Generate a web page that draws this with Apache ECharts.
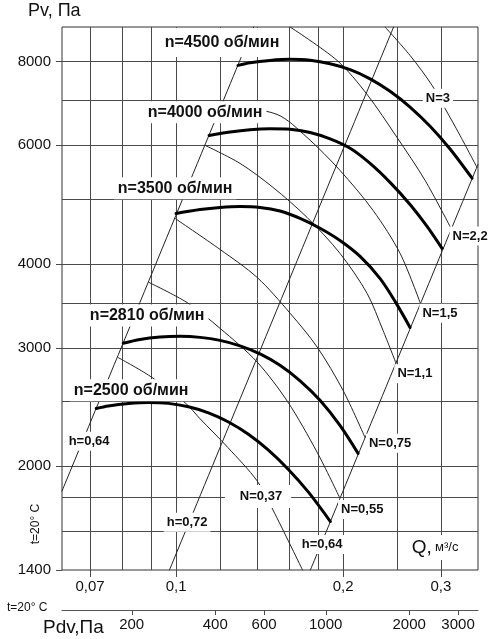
<!DOCTYPE html>
<html><head><meta charset="utf-8">
<script src="https://cdn.jsdelivr.net/npm/echarts@6/dist/echarts.min.js"></script>
<style>html,body{margin:0;padding:0;background:#fff}#c{width:500px;height:639px}</style>
</head><body><div id="c"></div>
<script>
const FONT = '"Liberation Sans", Arial, sans-serif';
// axis ranges
const Q_MIN = 0.0623, Q_MAX = 0.35, P_MIN = 1400, P_MAX = 9000;
const PDV_K = 28900; // Pdv = K * Q^2 (t = 20 °C)
// grid and tick values
const qGrid = [0.07, 0.08, 0.09, 0.1, 0.12, 0.14, 0.16, 0.18, 0.2, 0.25, 0.3];
const qTicks = [0.07, 0.1, 0.2, 0.3];
const pGrid = [1600, 1800, 2000, 2500, 3000, 3500, 4000, 5000, 6000, 7000, 8000];
const pTicks = [1400, 2000, 3000, 4000, 6000, 8000];
const pdvTicks = [200, 400, 600, 1000, 2000, 3000];
// fan curves [Q m3/s, Pv Pa]
const fan4500 = [[0.1293,7890],[0.1359,7960],[0.1477,8025],[0.1605,8055],[0.1744,8030],[0.1895,7935],[0.2059,7775],[0.2237,7535],[0.2430,7220],[0.2640,6840],[0.2869,6405],[0.3117,5925],[0.3415,5360]];
const fan4000 = [[0.1147,6205],[0.1251,6280],[0.1359,6330],[0.1477,6350],[0.1605,6340],[0.1744,6270],[0.1895,6135],[0.2059,5940],[0.2237,5640],[0.2430,5285],[0.2640,4900],[0.2833,4545],[0.3015,4215]];
const fan3500 = [[0.1000,4750],[0.1105,4815],[0.1200,4850],[0.1304,4865],[0.1417,4850],[0.1539,4790],[0.1673,4670],[0.1817,4515],[0.1974,4330],[0.2146,4100],[0.2332,3800],[0.2481,3515],[0.2640,3215]];
const fan2810 = [[0.0803,3045],[0.0861,3085],[0.0936,3110],[0.1017,3118],[0.1105,3107],[0.1200,3075],[0.1304,3018],[0.1417,2936],[0.1539,2823],[0.1673,2677],[0.1817,2504],[0.1974,2298],[0.2128,2088]];
const fan2500 = [[0.0718,2435],[0.0755,2456],[0.0821,2477],[0.0892,2486],[0.0969,2478],[0.1053,2449],[0.1144,2399],[0.1243,2325],[0.1350,2229],[0.1467,2111],[0.1594,1976],[0.1732,1828],[0.1897,1653]];
// power curves
const pow037 = [[0.0786,2900],[0.0898,2720],[0.104,2480],[0.1105,2350],[0.124,2130],[0.140,1900],[0.1495,1720],[0.169,1400]];
const pow055 = [[0.0894,3750],[0.1047,3500],[0.120,3205],[0.140,2855],[0.159,2490],[0.1796,2095],[0.197,1796]];
const pow075 = [[0.0996,4670],[0.120,4200],[0.140,3815],[0.1605,3375],[0.1796,3005],[0.200,2590],[0.219,2205]];
const pow11 = [[0.1128,6000],[0.1304,5640],[0.1495,5195],[0.1722,4687],[0.1974,4144],[0.2209,3613],[0.236,3182],[0.2491,2843]];
const pow15 = [[0.121,6904],[0.152,6671],[0.1722,6165],[0.1974,5507],[0.2265,4800],[0.2533,4144],[0.2752,3502]];
const pow22 = [[0.1605,9000],[0.195,8027],[0.2209,7144],[0.2501,6165],[0.281,5321],[0.313,4513]];
const pow3 = [[0.238,9000],[0.264,8166],[0.2893,7368],[0.3052,6810],[0.3249,6206],[0.3485,5563]];
// efficiency / boundary lines
const effLeft064 = [[0.0623,1835],[0.138,9000]];
const eff072 = [[0.0973,1400],[0.2466,9000]];
const effRight064 = [[0.1746,1400],[0.35,5620]];
// annotations [text, Q, Pv]
const notes = [
  ['n=4500 об/мин', 0.1210, 8538],
  ['n=4000 об/мин', 0.1128, 6718],
  ['n=3500 об/мин', 0.0996, 5178],
  ['n=2810 об/мин', 0.0887, 3350],
  ['n=2500 об/мин', 0.0830, 2593],
  ['h=0,64', 0.0697, 2177],
  ['h=0,72', 0.1047, 1649],
  ['N=0,37', 0.1405, 1801],
  ['h=0,64', 0.1833, 1528],
  ['N=0,55', 0.2165, 1723],
  ['N=0,75', 0.2430, 2162],
  ['N=1,1', 0.2694, 2742],
  ['N=1,5', 0.2989, 3374],
  ['N=2,2', 0.3387, 4397],
  ['N=3', 0.2964, 7049],
  ['Q, м³/с', 0.2929, 1512]
];

const GRID_COLOR = '#4a4a4a';
const TXT = '#111';
const crisp = v => Math.round(v) + 0.5;
const fmtQ = v => String(v).replace('.', ',');

function lineSeries(data, width, color) {
  return {type:'line', data, showSymbol:false, symbol:'none', smooth:0.3, silent:true,
    z: width > 2 ? 4 : 3, lineStyle:{color, width, cap:'round', join:'round'}, animation:false};
}

const series = [
  {type:'custom', silent:true, z:1, data: qGrid.map(q => [q, P_MIN]),
   renderItem(params, api) {
     const a = api.coord([api.value(0), P_MIN]), b = api.coord([api.value(0), P_MAX]);
     const x = crisp(a[0]);
     return {type:'line', shape:{x1:x, y1:a[1], x2:x, y2:b[1]}, style:{stroke:GRID_COLOR, lineWidth:1}};
   }},
  {type:'custom', silent:true, z:1, data: pGrid.map(p => [Q_MIN, p]),
   renderItem(params, api) {
     const a = api.coord([Q_MIN, api.value(1)]), b = api.coord([Q_MAX, api.value(1)]);
     const y = crisp(a[1]);
     return {type:'line', shape:{x1:a[0], y1:y, x2:b[0], y2:y}, style:{stroke:GRID_COLOR, lineWidth:1}};
   }},
  lineSeries(pow037, 1, '#222'), lineSeries(pow055, 1, '#222'), lineSeries(pow075, 1, '#222'),
  lineSeries(pow11, 1, '#222'), lineSeries(pow15, 1, '#222'), lineSeries(pow22, 1, '#222'), lineSeries(pow3, 1, '#222'),
  lineSeries(effLeft064, 1, '#222'), lineSeries(eff072, 1, '#222'), lineSeries(effRight064, 1, '#222'),
  lineSeries(fan4500, 3, '#000'), lineSeries(fan4000, 3, '#000'), lineSeries(fan3500, 3, '#000'),
  lineSeries(fan2810, 3, '#000'), lineSeries(fan2500, 3, '#000'),
  // x ticks + labels
  {type:'custom', silent:true, z:6, clip:false, data: qTicks.map(q => [q, P_MIN]),
   renderItem(params, api) {
     const p = api.coord([api.value(0), api.value(1)]);
     const x = crisp(p[0]);
     return {type:'group', children:[
       {type:'line', shape:{x1:x, y1:p[1], x2:x, y2:p[1]+7}, style:{stroke:GRID_COLOR, lineWidth:1}},
       {type:'text', x:p[0], y:p[1]+9, style:{text:fmtQ(api.value(0)), fontSize:15, fontFamily:FONT, fill:TXT, align:'center', verticalAlign:'top'}}
     ]};
   }},
  // y ticks + labels
  {type:'custom', silent:true, z:6, clip:false, data: pTicks.map(p => [Q_MIN, p]),
   renderItem(params, api) {
     const p = api.coord([api.value(0), api.value(1)]);
     const y = crisp(p[1]);
     return {type:'group', children:[
       {type:'line', shape:{x1:p[0]-6, y1:y, x2:p[0], y2:y}, style:{stroke:GRID_COLOR, lineWidth:1}},
       {type:'text', x:p[0]-11, y:p[1], style:{text:String(api.value(1)), fontSize:15, fontFamily:FONT, fill:TXT, align:'right', verticalAlign:'middle'}}
     ]};
   }},
  // Pdv ticks + labels
  {type:'custom', silent:true, z:6, clip:false, xAxisIndex:1, data: pdvTicks.map(v => [v, P_MIN]),
   renderItem(params, api) {
     const p = api.coord([api.value(0), api.value(1)]);
     const x = crisp(p[0]);
     return {type:'group', children:[
       {type:'line', shape:{x1:x, y1:p[1]+40, x2:x, y2:p[1]+45}, style:{stroke:GRID_COLOR, lineWidth:1}},
       {type:'text', x:p[0], y:p[1]+47, style:{text:String(api.value(0)), fontSize:15, fontFamily:FONT, fill:TXT, align:'center', verticalAlign:'top'}}
     ]};
   }},
  // annotations
  {type:'custom', silent:true, z:10, clip:false, data: notes.map(n => [n[1], n[2]]),
   renderItem(params, api) {
     const note = notes[params.dataIndex];
     const p = api.coord([api.value(0), api.value(1)]);
     const t = note[0];
     if (t.startsWith('Q')) {
       return {type:'text', x:p[0], y:p[1], style:{text:'{q|Q,} {u|м³/с}', align:'center', verticalAlign:'middle',
         rich:{q:{fontSize:19, fontFamily:FONT, fill:TXT}, u:{fontSize:13, fontFamily:FONT, fill:TXT}},
         backgroundColor:'#fff', padding:[3,4,3,4]}};
     }
     const big = t.startsWith('n=');
     let pad = big ? [3,4,3,4] : [3,3,3,3];
     if (params.dataIndex === 0) pad = [10,4,3,4];
     if (t === 'N=0,37') pad = [5,9,5,15];
     return {type:'text', x:p[0], y:p[1], style:{text:t, fontFamily:FONT, fontWeight:'bold', fontSize: big ? 16 : 13,
       fill:TXT, align:'center', verticalAlign:'middle', backgroundColor:'#fff', padding:pad}};
   }}
];

const chart = echarts.init(document.getElementById('c'));
chart.setOption({
  animation:false,
  backgroundColor:'#fff',
  grid:{left:62, right:22, top:27, bottom:69, show:true, borderColor:'#333', borderWidth:1, backgroundColor:'transparent'},
  xAxis:[
    {type:'log', logBase:10, min:Q_MIN, max:Q_MAX, axisLine:{show:false}, axisTick:{show:false}, axisLabel:{show:false}, splitLine:{show:false}},
    {type:'log', logBase:10, min:PDV_K*Q_MIN*Q_MIN, max:PDV_K*Q_MAX*Q_MAX, position:'bottom', offset:40,
     axisLine:{show:true, onZero:false, lineStyle:{color:'#555', width:1}}, axisTick:{show:false}, axisLabel:{show:false}, splitLine:{show:false}}
  ],
  yAxis:{type:'log', logBase:10, min:P_MIN, max:P_MAX, axisLine:{show:false}, axisTick:{show:false}, axisLabel:{show:false}, splitLine:{show:false}},
  graphic:[
    {type:'text', left:28, top:2, style:{text:'Pv, Па', fontSize:18, fontFamily:FONT, fill:TXT}},
    {type:'text', left:7, top:602, style:{text:'t=20° C', fontSize:12, fontFamily:FONT, fill:TXT}},
    {type:'text', left:43, top:618, style:{text:'Pdv,Па', fontSize:19, fontFamily:FONT, fill:TXT}},
    {type:'text', x:36, y:524, rotation:Math.PI/2, style:{text:'t=20° C', fontSize:12, fontFamily:FONT, fill:TXT, align:'center', verticalAlign:'middle'}}
  ],
  series
});
</script></body></html>
